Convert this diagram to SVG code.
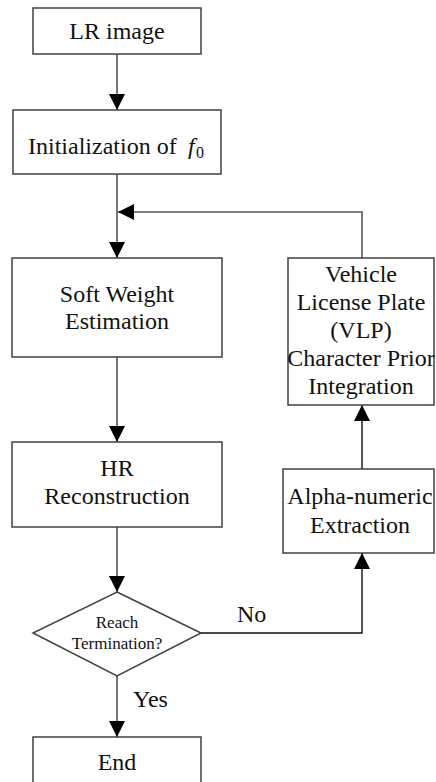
<svg xmlns="http://www.w3.org/2000/svg" width="436" height="782" viewBox="0 0 436 782">
  <style>
    .box { fill: #ffffff; stroke: #404040; stroke-width: 1.5; }
    .edge { fill: none; stroke: #555555; stroke-width: 1.6; }
    .edge.dark { stroke: #111111; stroke-width: 1.4; }
    text { font-family: 'Liberation Serif', 'DejaVu Serif', serif; font-size: 24px; fill: #111111; text-anchor: middle; }
    text.small { font-size: 17px; }
    text.left { text-anchor: start; }
  </style>
  <defs>
    <marker id="arrow" markerUnits="userSpaceOnUse" markerWidth="16" markerHeight="16" viewBox="0 0 15 15" refX="15" refY="7.5" orient="auto">
      <path d="M0,0 L15,7.5 L0,15 Z" fill="#000000"/>
    </marker>
  </defs>

  <rect width="436" height="782" fill="#ffffff"/>

  <!-- connectors -->
  <g id="connectors">
    <path class="edge" d="M117,54 V110" marker-end="url(#arrow)"/>
    <path class="edge" d="M117,174 V258" marker-end="url(#arrow)"/>
    <path class="edge" d="M362,258 V212 H118" marker-end="url(#arrow)"/>
    <path class="edge" d="M117,357 V442" marker-end="url(#arrow)"/>
    <path class="edge" d="M117,527 V592" marker-end="url(#arrow)"/>
    <path class="edge" d="M117,676 V737" marker-end="url(#arrow)"/>
    <path class="edge dark" d="M201,633 H362 V553" marker-end="url(#arrow)"/>
    <path class="edge dark" d="M362,469 V405" marker-end="url(#arrow)"/>
    <text class="left" x="237" y="622" font-family="Liberation Serif, serif">No</text>
    <text class="left" x="133" y="707" font-family="Liberation Serif, serif">Yes</text>
  </g>

  <g id="lr-image">
    <rect class="box" x="33" y="8" width="168" height="46"/>
    <text x="117" y="39">LR image</text>
  </g>

  <g id="initialization">
    <rect class="box" x="13" y="110" width="208" height="64"/>
    <text class="left" x="28" y="154">Initialization of <tspan font-style="italic" x="188">f</tspan><tspan font-size="16" x="196" y="158">0</tspan></text>
  </g>

  <g id="soft-weight">
    <rect class="box" x="12" y="258" width="210" height="99"/>
    <text x="117" y="302">Soft Weight</text>
    <text x="117" y="329">Estimation</text>
  </g>

  <g id="hr-reconstruction">
    <rect class="box" x="12" y="442" width="210" height="85"/>
    <text x="117" y="476">HR</text>
    <text x="117" y="504">Reconstruction</text>
  </g>

  <g id="termination">
    <polygon class="box" points="117,592 201,633 117,676 33,633"/>
    <text class="small" x="117" y="628">Reach</text>
    <text class="small" x="117" y="649">Termination?</text>
  </g>

  <g id="end">
    <rect class="box" x="33" y="737" width="168" height="60"/>
    <text x="117" y="770">End</text>
  </g>

  <g id="vlp-prior">
    <rect class="box" x="288" y="258" width="146" height="147"/>
    <text x="361" y="282">Vehicle</text>
    <text x="361" y="310">License Plate</text>
    <text x="361" y="338">(VLP)</text>
    <text x="361" y="366">Character Prior</text>
    <text x="361" y="394">Integration</text>
  </g>

  <g id="alpha-numeric">
    <rect class="box" x="283" y="469" width="151" height="84"/>
    <text x="360" y="504">Alpha-numeric</text>
    <text x="360" y="533">Extraction</text>
  </g>
</svg>
